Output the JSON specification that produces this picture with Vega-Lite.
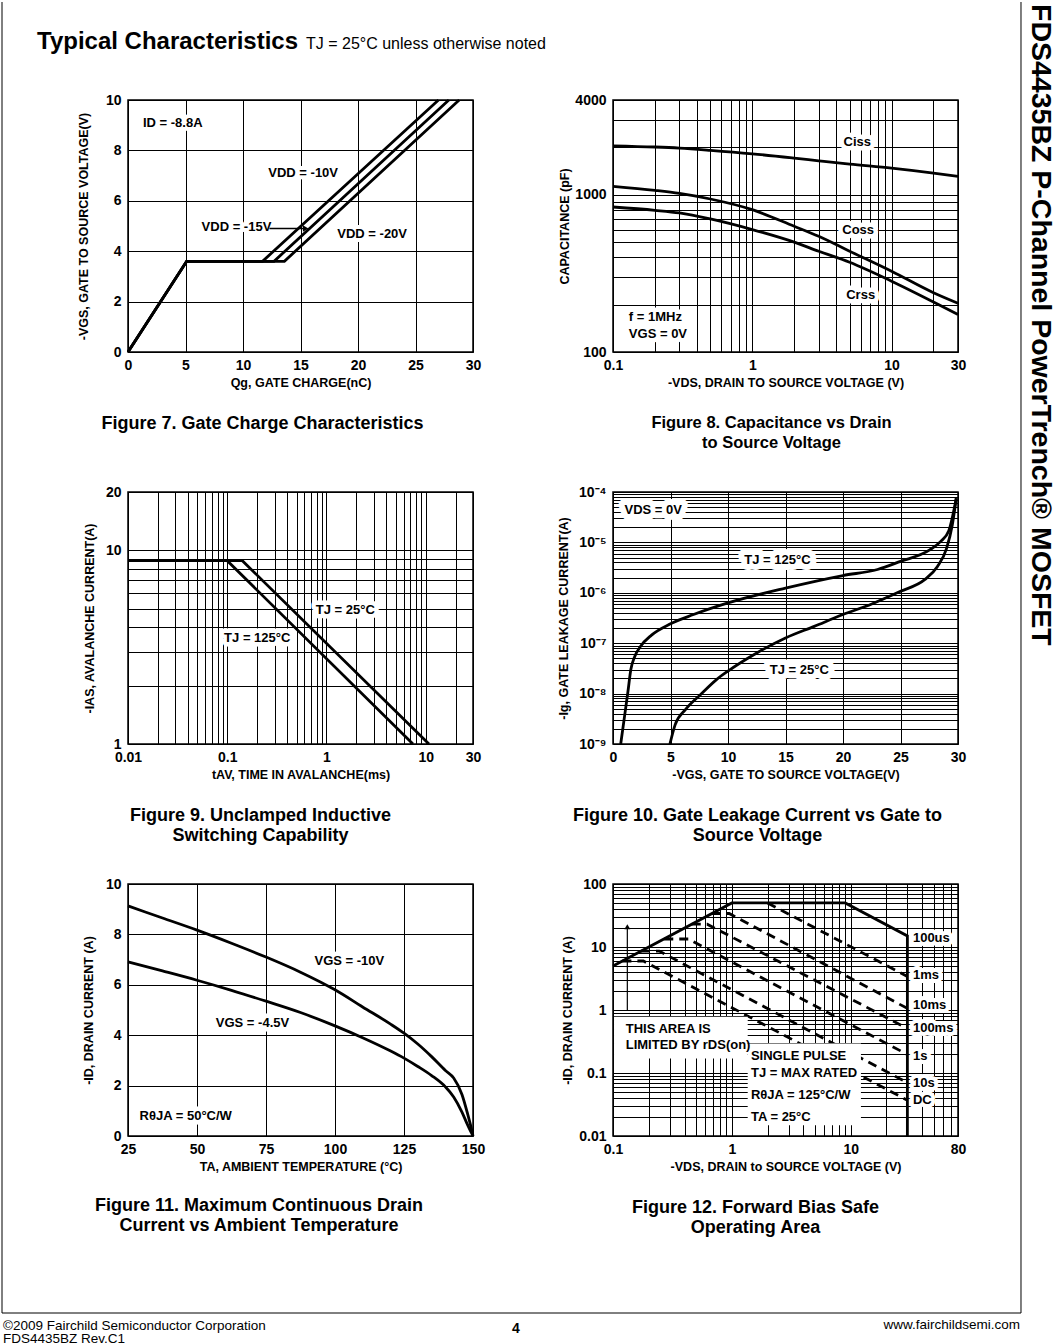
{
  "$schema": "https://vega.github.io/schema/vega-lite/v6.json",
  "background": "white",
  "padding": {"left": 0, "top": 0, "right": 7, "bottom": 0},
  "columns": 2,
  "spacing": {"row": 140, "column": 140},
  "bounds": "flush",
  "config": {
    "font": "Liberation Sans",
    "view": {"stroke": "#000000", "strokeWidth": 1.5, "continuousWidth": 345, "continuousHeight": 252},
    "axis": {
      "grid": true, "gridColor": "#000000", "gridWidth": 1, "gridOpacity": 1,
      "domain": false, "ticks": false, "tickSize": 0,
      "labelFont": "Liberation Sans", "labelFontSize": 14, "labelFontWeight": "bold", "labelColor": "#000000",
      "labelFlush": false, "labelOverlap": false, "labelBound": false,
      "titleFont": "Liberation Sans", "titleFontSize": 12.5, "titleFontWeight": "bold", "titleColor": "#000000"
    },
    "axisX": {"labelPadding": 6},
    "axisY": {"labelPadding": 7},
    "title": {"orient": "bottom", "anchor": "middle", "font": "Liberation Sans", "fontSize": 18, "fontWeight": "bold", "color": "#000000", "lineHeight": 20, "offset": 26},
    "line": {"color": "#000000", "strokeWidth": 2.8},
    "rule": {"color": "#000000"},
    "text": {"font": "Liberation Sans", "fontWeight": "bold", "fontSize": 13, "color": "#000000"}
  },
  "concat": [
    {
      "width": 345, "height": 252,
      "title": {"text": "Figure 7.  Gate Charge Characteristics", "dx": -38},
      "layer": [
        {
          "data": {"values": [
            {"VDD": "-10V", "Qg": 0, "VGS": 0}, {"VDD": "-10V", "Qg": 5.1, "VGS": 3.6}, {"VDD": "-10V", "Qg": 11.7, "VGS": 3.6}, {"VDD": "-10V", "Qg": 27.0, "VGS": 10},
            {"VDD": "-15V", "Qg": 0, "VGS": 0}, {"VDD": "-15V", "Qg": 5.1, "VGS": 3.6}, {"VDD": "-15V", "Qg": 12.7, "VGS": 3.6}, {"VDD": "-15V", "Qg": 27.9, "VGS": 10},
            {"VDD": "-20V", "Qg": 0, "VGS": 0}, {"VDD": "-20V", "Qg": 5.1, "VGS": 3.6}, {"VDD": "-20V", "Qg": 13.6, "VGS": 3.6}, {"VDD": "-20V", "Qg": 28.8, "VGS": 10}
          ]},
          "mark": {"type": "line"},
          "encoding": {
            "x": {"field": "Qg", "type": "quantitative", "scale": {"domain": [0, 30], "nice": false, "zero": false},
                  "axis": {"title": "Qg, GATE CHARGE(nC)", "values": [0, 5, 10, 15, 20, 25, 30], "titleY": 30, "titleBaseline": "middle"}},
            "y": {"field": "VGS", "type": "quantitative", "scale": {"domain": [0, 10], "nice": false},
                  "axis": {"title": "-VGS, GATE TO SOURCE VOLTAGE(V)", "values": [0, 2, 4, 6, 8, 10], "titleX": -45, "titleY": 126, "titleBaseline": "middle"}},
            "detail": {"field": "VDD", "type": "nominal"}
          }
        },
        {
          "data": {"values": [
            {"label": "ID = -8.8A", "Qg": 1.3, "VGS": 9.07},
            {"label": "VDD = -10V", "Qg": 12.2, "VGS": 7.09},
            {"label": "VDD = -15V", "Qg": 6.4, "VGS": 4.95},
            {"label": "VDD = -20V", "Qg": 18.2, "VGS": 4.68}
          ]},
          "encoding": {"x": {"field": "Qg", "type": "quantitative"}, "y": {"field": "VGS", "type": "quantitative"}, "text": {"field": "label", "type": "nominal"}},
          "layer": [
            {"mark": {"type": "text", "align": "left", "baseline": "middle", "stroke": "white", "strokeWidth": 8, "strokeJoin": "round", "fill": "white"}},
            {"mark": {"type": "text", "align": "left", "baseline": "middle"}}
          ]
        },
        {
          "data": {"values": [{}]},
          "mark": {"type": "rule", "strokeWidth": 1.5},
          "encoding": {"x": {"datum": 12.3}, "x2": {"datum": 15.3}, "y": {"datum": 4.9}}
        },
        {
          "data": {"values": [{}]},
          "mark": {"type": "point", "shape": "triangle-right", "filled": true, "color": "#000000", "size": 40, "opacity": 1},
          "encoding": {"x": {"datum": 15.45}, "y": {"datum": 4.9}}
        }
      ]
    },
    {
      "width": 345, "height": 252,
      "title": {"text": ["Figure 8. Capacitance vs Drain", "to Source Voltage"], "dx": -14, "fontSize": 16.5},
      "layer": [
        {
          "data": {"values": [
            {"cap": "Ciss", "VDS": 0.1, "C": 2046}, {"cap": "Ciss", "VDS": 0.2, "C": 2010}, {"cap": "Ciss", "VDS": 0.3, "C": 1977}, {"cap": "Ciss", "VDS": 0.5, "C": 1915}, {"cap": "Ciss", "VDS": 1, "C": 1820}, {"cap": "Ciss", "VDS": 2, "C": 1709}, {"cap": "Ciss", "VDS": 3, "C": 1643}, {"cap": "Ciss", "VDS": 5, "C": 1565}, {"cap": "Ciss", "VDS": 10, "C": 1476}, {"cap": "Ciss", "VDS": 20, "C": 1372}, {"cap": "Ciss", "VDS": 30, "C": 1307},
            {"cap": "Coss", "VDS": 0.1, "C": 1129}, {"cap": "Coss", "VDS": 0.2, "C": 1065}, {"cap": "Coss", "VDS": 0.3, "C": 1019}, {"cap": "Coss", "VDS": 0.5, "C": 939}, {"cap": "Coss", "VDS": 1, "C": 803}, {"cap": "Coss", "VDS": 2, "C": 630}, {"cap": "Coss", "VDS": 3, "C": 544}, {"cap": "Coss", "VDS": 5, "C": 437}, {"cap": "Coss", "VDS": 10, "C": 326}, {"cap": "Coss", "VDS": 20, "C": 238}, {"cap": "Coss", "VDS": 30, "C": 204},
            {"cap": "Crss", "VDS": 0.1, "C": 835}, {"cap": "Crss", "VDS": 0.2, "C": 796}, {"cap": "Crss", "VDS": 0.3, "C": 766}, {"cap": "Crss", "VDS": 0.5, "C": 701}, {"cap": "Crss", "VDS": 1, "C": 600}, {"cap": "Crss", "VDS": 2, "C": 499}, {"cap": "Crss", "VDS": 3, "C": 437}, {"cap": "Crss", "VDS": 5, "C": 372}, {"cap": "Crss", "VDS": 10, "C": 282}, {"cap": "Crss", "VDS": 20, "C": 208}, {"cap": "Crss", "VDS": 30, "C": 173}
          ]},
          "mark": {"type": "line", "interpolate": "monotone"},
          "encoding": {
            "x": {"field": "VDS", "type": "quantitative", "scale": {"type": "log", "domain": [0.1, 30], "nice": false},
                  "axis": {"title": "-VDS, DRAIN TO SOURCE VOLTAGE (V)", "values": [0.1, 0.2, 0.3, 0.4, 0.5, 0.6, 0.7, 0.8, 0.9, 1, 2, 3, 4, 5, 6, 7, 8, 9, 10, 20, 30],
                           "labelExpr": "datum.value == 0.1 ? '0.1' : datum.value == 1 ? '1' : datum.value == 10 ? '10' : datum.value == 30 ? '30' : ''", "titleY": 30, "titleBaseline": "middle"}},
            "y": {"field": "C", "type": "quantitative", "scale": {"type": "log", "domain": [100, 4000], "nice": false},
                  "axis": {"title": "CAPACITANCE (pF)", "values": [100, 200, 300, 400, 500, 600, 700, 800, 900, 1000, 2000, 3000, 4000],
                           "labelExpr": "datum.value == 100 ? '100' : datum.value == 1000 ? '1000' : datum.value == 4000 ? '4000' : ''", "titleX": -49, "titleY": 126, "titleBaseline": "middle"}},
            "detail": {"field": "cap", "type": "nominal"}
          }
        },
        {
          "data": {"values": [
            {"label": "Ciss", "VDS": 5.68, "C": 2178},
            {"label": "Coss", "VDS": 5.76, "C": 600},
            {"label": "Crss", "VDS": 6.0, "C": 232}
          ]},
          "encoding": {"x": {"field": "VDS", "type": "quantitative"}, "y": {"field": "C", "type": "quantitative"}, "text": {"field": "label", "type": "nominal"}},
          "layer": [
            {"mark": {"type": "text", "align": "center", "baseline": "middle", "stroke": "white", "strokeWidth": 9, "strokeJoin": "round", "fill": "white"}},
            {"mark": {"type": "text", "align": "center", "baseline": "middle"}}
          ]
        },
        {
          "data": {"values": [
            {"label": "f = 1MHz", "VDS": 0.13, "C": 167},
            {"label": "VGS = 0V", "VDS": 0.13, "C": 131}
          ]},
          "encoding": {"x": {"field": "VDS", "type": "quantitative"}, "y": {"field": "C", "type": "quantitative"}, "text": {"field": "label", "type": "nominal"}},
          "layer": [
            {"mark": {"type": "text", "align": "left", "baseline": "middle", "stroke": "white", "strokeWidth": 9, "strokeJoin": "round", "fill": "white"}},
            {"mark": {"type": "text", "align": "left", "baseline": "middle"}}
          ]
        }
      ]
    },
    {
      "width": 345, "height": 252,
      "title": {"text": ["Figure 9. Unclamped Inductive", "Switching Capability"], "dx": -40},
      "layer": [
        {
          "data": {"values": [
            {"TJ": "25C", "t": 0.01, "IAS": 8.84}, {"TJ": "25C", "t": 0.142, "IAS": 8.84}, {"TJ": "25C", "t": 10.8, "IAS": 1},
            {"TJ": "125C", "t": 0.01, "IAS": 8.84}, {"TJ": "125C", "t": 0.1, "IAS": 8.84}, {"TJ": "125C", "t": 7.45, "IAS": 1}
          ]},
          "mark": {"type": "line"},
          "encoding": {
            "x": {"field": "t", "type": "quantitative", "scale": {"type": "log", "domain": [0.01, 30], "nice": false},
                  "axis": {"title": "tAV, TIME IN AVALANCHE(ms)", "values": [0.01, 0.02, 0.03, 0.04, 0.05, 0.06, 0.07, 0.08, 0.09, 0.1, 0.2, 0.3, 0.4, 0.5, 0.6, 0.7, 0.8, 0.9, 1, 2, 3, 4, 5, 6, 7, 8, 9, 10, 20, 30],
                           "labelExpr": "datum.value == 0.01 ? '0.01' : datum.value == 0.1 ? '0.1' : datum.value == 1 ? '1' : datum.value == 10 ? '10' : datum.value == 30 ? '30' : ''", "titleY": 30, "titleBaseline": "middle"}},
            "y": {"field": "IAS", "type": "quantitative", "scale": {"type": "log", "domain": [1, 20], "nice": false},
                  "axis": {"title": "-IAS, AVALANCHE CURRENT(A)", "values": [1, 2, 3, 4, 5, 6, 7, 8, 9, 10, 20],
                           "labelExpr": "datum.value == 1 ? '1' : datum.value == 10 ? '10' : datum.value == 20 ? '20' : ''", "titleX": -39, "titleY": 126, "titleBaseline": "middle"}},
            "detail": {"field": "TJ", "type": "nominal"}
          }
        },
        {
          "data": {"values": [
            {"label": "TJ = 25°C", "t": 0.78, "IAS": 4.94},
            {"label": "TJ = 125°C", "t": 0.093, "IAS": 3.53}
          ]},
          "encoding": {"x": {"field": "t", "type": "quantitative"}, "y": {"field": "IAS", "type": "quantitative"}, "text": {"field": "label", "type": "nominal"}},
          "layer": [
            {"mark": {"type": "text", "align": "left", "baseline": "middle", "stroke": "white", "strokeWidth": 9, "strokeJoin": "round", "fill": "white"}},
            {"mark": {"type": "text", "align": "left", "baseline": "middle"}}
          ]
        }
      ]
    },
    {
      "width": 345, "height": 252,
      "title": {"text": ["Figure 10.  Gate Leakage Current vs Gate to", "Source Voltage"], "dx": -28},
      "layer": [
        {
          "data": {"values": [
            {"TJ": "125C", "VGS": 0.67, "Ig": 1e-9}, {"TJ": "125C", "VGS": 1.0, "Ig": 3.5e-9}, {"TJ": "125C", "VGS": 1.3, "Ig": 1.1e-8}, {"TJ": "125C", "VGS": 1.55, "Ig": 3.0e-8}, {"TJ": "125C", "VGS": 1.9, "Ig": 5.5e-8}, {"TJ": "125C", "VGS": 2.4, "Ig": 8.7e-8}, {"TJ": "125C", "VGS": 3.35, "Ig": 1.45e-7}, {"TJ": "125C", "VGS": 4.95, "Ig": 2.4e-7}, {"TJ": "125C", "VGS": 7.0, "Ig": 3.7e-7}, {"TJ": "125C", "VGS": 10.0, "Ig": 6.3e-7}, {"TJ": "125C", "VGS": 15.0, "Ig": 1.24e-6}, {"TJ": "125C", "VGS": 20.0, "Ig": 2.2e-6}, {"TJ": "125C", "VGS": 23.0, "Ig": 2.9e-6}, {"TJ": "125C", "VGS": 25.0, "Ig": 4.2e-6}, {"TJ": "125C", "VGS": 27.5, "Ig": 7.0e-6}, {"TJ": "125C", "VGS": 28.5, "Ig": 1.05e-5}, {"TJ": "125C", "VGS": 29.2, "Ig": 1.7e-5}, {"TJ": "125C", "VGS": 29.85, "Ig": 7.5e-5},
            {"TJ": "25C", "VGS": 4.95, "Ig": 1e-9}, {"TJ": "25C", "VGS": 5.4, "Ig": 2.4e-9}, {"TJ": "25C", "VGS": 6.3, "Ig": 4.8e-9}, {"TJ": "25C", "VGS": 7.6, "Ig": 9.5e-9}, {"TJ": "25C", "VGS": 9.0, "Ig": 1.9e-8}, {"TJ": "25C", "VGS": 10.0, "Ig": 2.8e-8}, {"TJ": "25C", "VGS": 12.5, "Ig": 6.4e-8}, {"TJ": "25C", "VGS": 15.0, "Ig": 1.27e-7}, {"TJ": "25C", "VGS": 17.5, "Ig": 2.16e-7}, {"TJ": "25C", "VGS": 20.0, "Ig": 3.7e-7}, {"TJ": "25C", "VGS": 22.5, "Ig": 6.0e-7}, {"TJ": "25C", "VGS": 25.0, "Ig": 1.07e-6}, {"TJ": "25C", "VGS": 27.1, "Ig": 1.82e-6}, {"TJ": "25C", "VGS": 28.2, "Ig": 3.3e-6}, {"TJ": "25C", "VGS": 29.0, "Ig": 7.5e-6}, {"TJ": "25C", "VGS": 29.5, "Ig": 2.2e-5}, {"TJ": "25C", "VGS": 29.85, "Ig": 7.5e-5}
          ]},
          "mark": {"type": "line", "interpolate": "monotone"},
          "encoding": {
            "x": {"field": "VGS", "type": "quantitative", "scale": {"domain": [0, 30], "nice": false},
                  "axis": {"title": "-VGS, GATE TO SOURCE VOLTAGE(V)", "values": [0, 5, 10, 15, 20, 25, 30], "titleY": 30, "titleBaseline": "middle"}},
            "y": {"field": "Ig", "type": "quantitative", "scale": {"type": "log", "domain": [1e-9, 1e-4], "nice": false},
                  "axis": {"title": "-Ig, GATE LEAKAGE CURRENT(A)",
                           "values": [1e-9, 2e-9, 3e-9, 4e-9, 5e-9, 6e-9, 7e-9, 8e-9, 9e-9, 1e-8, 2e-8, 3e-8, 4e-8, 5e-8, 6e-8, 7e-8, 8e-8, 9e-8, 1e-7, 2e-7, 3e-7, 4e-7, 5e-7, 6e-7, 7e-7, 8e-7, 9e-7, 1e-6, 2e-6, 3e-6, 4e-6, 5e-6, 6e-6, 7e-6, 8e-6, 9e-6, 1e-5, 2e-5, 3e-5, 4e-5, 5e-5, 6e-5, 7e-5, 8e-5, 9e-5, 1e-4],
                           "labelExpr": "datum.value == 1e-9 ? '10⁻⁹' : datum.value == 1e-8 ? '10⁻⁸' : datum.value == 1e-7 ? '10⁻⁷' : datum.value == 1e-6 ? '10⁻⁶' : datum.value == 1e-5 ? '10⁻⁵' : datum.value == 1e-4 ? '10⁻⁴' : ''",
                           "titleX": -50, "titleY": 126, "titleBaseline": "middle"}},
            "detail": {"field": "TJ", "type": "nominal"}
          }
        },
        {
          "data": {"values": [
            {"label": "VDS = 0V", "VGS": 1.0, "Ig": 4.47e-5}
          ]},
          "encoding": {"x": {"field": "VGS", "type": "quantitative"}, "y": {"field": "Ig", "type": "quantitative"}, "text": {"field": "label", "type": "nominal"}},
          "layer": [
            {"mark": {"type": "text", "align": "left", "baseline": "middle", "stroke": "white", "strokeWidth": 12, "strokeJoin": "round", "fill": "white"}},
            {"mark": {"type": "text", "align": "left", "baseline": "middle"}}
          ]
        },
        {
          "data": {"values": [
            {"label": "TJ = 125°C", "VGS": 14.3, "Ig": 4.5e-6},
            {"label": "TJ = 25°C", "VGS": 16.2, "Ig": 2.98e-8}
          ]},
          "encoding": {"x": {"field": "VGS", "type": "quantitative"}, "y": {"field": "Ig", "type": "quantitative"}, "text": {"field": "label", "type": "nominal"}},
          "layer": [
            {"mark": {"type": "text", "align": "center", "baseline": "middle", "stroke": "white", "strokeWidth": 12, "strokeJoin": "round", "fill": "white"}},
            {"mark": {"type": "text", "align": "center", "baseline": "middle"}}
          ]
        }
      ]
    },
    {
      "width": 345, "height": 252,
      "layer": [
        {
          "data": {"values": [
            {"VGS": "-10V", "TA": 25, "ID": 9.13}, {"VGS": "-10V", "TA": 37.5, "ID": 8.65}, {"VGS": "-10V", "TA": 50, "ID": 8.17}, {"VGS": "-10V", "TA": 62.5, "ID": 7.65}, {"VGS": "-10V", "TA": 75, "ID": 7.1}, {"VGS": "-10V", "TA": 87.5, "ID": 6.5}, {"VGS": "-10V", "TA": 100, "ID": 5.8}, {"VGS": "-10V", "TA": 110, "ID": 5.12}, {"VGS": "-10V", "TA": 120, "ID": 4.45}, {"VGS": "-10V", "TA": 125, "ID": 4.08}, {"VGS": "-10V", "TA": 130, "ID": 3.65}, {"VGS": "-10V", "TA": 135, "ID": 3.15}, {"VGS": "-10V", "TA": 140, "ID": 2.6}, {"VGS": "-10V", "TA": 143, "ID": 2.3}, {"VGS": "-10V", "TA": 146, "ID": 1.65}, {"VGS": "-10V", "TA": 148, "ID": 0.9}, {"VGS": "-10V", "TA": 149.3, "ID": 0.35}, {"VGS": "-10V", "TA": 150, "ID": 0},
            {"VGS": "-4.5V", "TA": 25, "ID": 6.91}, {"VGS": "-4.5V", "TA": 37.5, "ID": 6.55}, {"VGS": "-4.5V", "TA": 50, "ID": 6.18}, {"VGS": "-4.5V", "TA": 62.5, "ID": 5.78}, {"VGS": "-4.5V", "TA": 75, "ID": 5.35}, {"VGS": "-4.5V", "TA": 87.5, "ID": 4.9}, {"VGS": "-4.5V", "TA": 100, "ID": 4.37}, {"VGS": "-4.5V", "TA": 110, "ID": 3.9}, {"VGS": "-4.5V", "TA": 120, "ID": 3.38}, {"VGS": "-4.5V", "TA": 125, "ID": 3.09}, {"VGS": "-4.5V", "TA": 130, "ID": 2.76}, {"VGS": "-4.5V", "TA": 135, "ID": 2.4}, {"VGS": "-4.5V", "TA": 140, "ID": 1.95}, {"VGS": "-4.5V", "TA": 143, "ID": 1.55}, {"VGS": "-4.5V", "TA": 146, "ID": 0.95}, {"VGS": "-4.5V", "TA": 148, "ID": 0.45}, {"VGS": "-4.5V", "TA": 149.3, "ID": 0.15}, {"VGS": "-4.5V", "TA": 150, "ID": 0}
          ]},
          "mark": {"type": "line", "interpolate": "monotone"},
          "encoding": {
            "x": {"field": "TA", "type": "quantitative", "scale": {"domain": [25, 150], "nice": false, "zero": false},
                  "axis": {"title": "TA, AMBIENT TEMPERATURE (°C)", "values": [25, 50, 75, 100, 125, 150], "titleY": 30, "titleBaseline": "middle"}},
            "y": {"field": "ID", "type": "quantitative", "scale": {"domain": [0, 10], "nice": false},
                  "axis": {"title": "-ID, DRAIN CURRENT (A)", "values": [0, 2, 4, 6, 8, 10], "titleX": -40, "titleY": 126, "titleBaseline": "middle"}},
            "detail": {"field": "VGS", "type": "nominal"}
          }
        },
        {
          "data": {"values": [
            {"label": "VGS = -10V", "TA": 105.2, "ID": 6.94},
            {"label": "VGS = -4.5V", "TA": 70.1, "ID": 4.49}
          ]},
          "encoding": {"x": {"field": "TA", "type": "quantitative"}, "y": {"field": "ID", "type": "quantitative"}, "text": {"field": "label", "type": "nominal"}},
          "layer": [
            {"mark": {"type": "text", "align": "center", "baseline": "middle", "stroke": "white", "strokeWidth": 9, "strokeJoin": "round", "fill": "white"}},
            {"mark": {"type": "text", "align": "center", "baseline": "middle"}}
          ]
        },
        {
          "data": {"values": [
            {"label": "RθJA = 50°C/W", "TA": 29.2, "ID": 0.79}
          ]},
          "encoding": {"x": {"field": "TA", "type": "quantitative"}, "y": {"field": "ID", "type": "quantitative"}, "text": {"field": "label", "type": "nominal"}},
          "layer": [
            {"mark": {"type": "text", "align": "left", "baseline": "middle", "stroke": "white", "strokeWidth": 9, "strokeJoin": "round", "fill": "white"}},
            {"mark": {"type": "text", "align": "left", "baseline": "middle"}}
          ]
        },
        {
          "data": {"values": [{}]},
          "mark": {"type": "text", "text": "Figure 11. Maximum Continuous Drain", "align": "center", "baseline": "middle", "fontSize": 18},
          "encoding": {"x": {"datum": 72.46}, "y": {"datum": -2.778}}
        },
        {
          "data": {"values": [{}]},
          "mark": {"type": "text", "text": "Current  vs Ambient Temperature", "align": "center", "baseline": "middle", "fontSize": 18},
          "encoding": {"x": {"datum": 72.46}, "y": {"datum": -3.571}}
        },
        {
          "data": {"values": [{}]},
          "mark": {"type": "rule", "strokeWidth": 1},
          "encoding": {"x": {"datum": -20.652}, "y": {"datum": 45.0}, "y2": {"datum": -7.024}}
        },
        {
          "data": {"values": [{}]},
          "mark": {"type": "rule", "strokeWidth": 1},
          "encoding": {"x": {"datum": 348.55}, "y": {"datum": 45.0}, "y2": {"datum": -7.024}}
        },
        {
          "data": {"values": [{}]},
          "mark": {"type": "rule", "strokeWidth": 1},
          "encoding": {"x": {"datum": -20.652}, "x2": {"datum": 348.55}, "y": {"datum": -7.024}}
        },
        {
          "data": {"values": [{}]},
          "mark": {"type": "text", "text": "Typical Characteristics", "align": "left", "baseline": "alphabetic", "fontSize": 24},
          "encoding": {"x": {"datum": -7.971}, "y": {"datum": 43.135}}
        },
        {
          "data": {"values": [{}]},
          "mark": {"type": "text", "text": "TJ = 25°C unless otherwise noted", "align": "left", "baseline": "alphabetic", "fontSize": 16, "fontWeight": "normal"},
          "encoding": {"x": {"datum": 89.5}, "y": {"datum": 43.135}}
        },
        {
          "data": {"values": [{}]},
          "mark": {"type": "text", "text": "FDS4435BZ P-Channel PowerTrench® MOSFET", "align": "left", "baseline": "middle", "angle": 90, "fontSize": 28.5},
          "encoding": {"x": {"datum": 355.8}, "y": {"datum": 44.921}}
        },
        {
          "data": {"values": [{}]},
          "mark": {"type": "text", "text": "©2009 Fairchild Semiconductor Corporation", "align": "left", "baseline": "middle", "fontSize": 13.5, "fontWeight": "normal"},
          "encoding": {"x": {"datum": -20.29}, "y": {"datum": -7.54}}
        },
        {
          "data": {"values": [{}]},
          "mark": {"type": "text", "text": "FDS4435BZ Rev.C1", "align": "left", "baseline": "middle", "fontSize": 13.5, "fontWeight": "normal"},
          "encoding": {"x": {"datum": -20.29}, "y": {"datum": -8.056}}
        },
        {
          "data": {"values": [{}]},
          "mark": {"type": "text", "text": "4", "align": "center", "baseline": "middle", "fontSize": 14},
          "encoding": {"x": {"datum": 165.58}, "y": {"datum": -7.659}}
        },
        {
          "data": {"values": [{}]},
          "mark": {"type": "text", "text": "www.fairchildsemi.com", "align": "right", "baseline": "middle", "fontSize": 13.5, "fontWeight": "normal"},
          "encoding": {"x": {"datum": 348.19}, "y": {"datum": -7.5}}
        }
      ]
    },
    {
      "width": 345, "height": 252,
      "title": {"text": ["Figure 12.  Forward Bias Safe", "Operating Area"], "dx": -30},
      "layer": [
        {
          "data": {"values": [
            {"t": "1ms", "k": 0, "VDS": 2, "ID": 50}, {"t": "1ms", "k": 1, "VDS": 30, "ID": 3.4},
            {"t": "10ms", "k": 0, "VDS": 0.68, "ID": 34}, {"t": "10ms", "k": 1, "VDS": 0.95, "ID": 34}, {"t": "10ms", "k": 2, "VDS": 30, "ID": 1.06},
            {"t": "100ms", "k": 0, "VDS": 0.46, "ID": 23}, {"t": "100ms", "k": 1, "VDS": 0.62, "ID": 23}, {"t": "100ms", "k": 2, "VDS": 30, "ID": 0.51},
            {"t": "1s", "k": 0, "VDS": 0.27, "ID": 13.4}, {"t": "1s", "k": 1, "VDS": 0.43, "ID": 13.4}, {"t": "1s", "k": 2, "VDS": 30, "ID": 0.197},
            {"t": "10s", "k": 0, "VDS": 0.172, "ID": 8.6}, {"t": "10s", "k": 1, "VDS": 0.245, "ID": 8.6}, {"t": "10s", "k": 2, "VDS": 30, "ID": 0.07},
            {"t": "DC", "k": 0, "VDS": 0.12, "ID": 6.0}, {"t": "DC", "k": 1, "VDS": 0.18, "ID": 6.0}, {"t": "DC", "k": 2, "VDS": 30, "ID": 0.037}
          ]},
          "mark": {"type": "line", "strokeDash": [9, 6]},
          "encoding": {
            "x": {"field": "VDS", "type": "quantitative", "scale": {"type": "log", "domain": [0.1, 80], "nice": false},
                  "axis": {"title": "-VDS, DRAIN to SOURCE VOLTAGE (V)", "values": [0.1, 0.2, 0.3, 0.4, 0.5, 0.6, 0.7, 0.8, 0.9, 1, 2, 3, 4, 5, 6, 7, 8, 9, 10, 20, 30, 40, 50, 60, 70, 80],
                           "labelExpr": "datum.value == 0.1 ? '0.1' : datum.value == 1 ? '1' : datum.value == 10 ? '10' : datum.value == 80 ? '80' : ''", "titleY": 30, "titleBaseline": "middle"}},
            "y": {"field": "ID", "type": "quantitative", "scale": {"type": "log", "domain": [0.01, 100], "nice": false},
                  "axis": {"title": "-ID, DRAIN CURRENT (A)", "values": [0.01, 0.02, 0.03, 0.04, 0.05, 0.06, 0.07, 0.08, 0.09, 0.1, 0.2, 0.3, 0.4, 0.5, 0.6, 0.7, 0.8, 0.9, 1, 2, 3, 4, 5, 6, 7, 8, 9, 10, 20, 30, 40, 50, 60, 70, 80, 90, 100],
                           "labelExpr": "datum.value == 0.01 ? '0.01' : datum.value == 0.1 ? '0.1' : datum.value == 1 ? '1' : datum.value == 10 ? '10' : datum.value == 100 ? '100' : ''", "titleX": -46, "titleY": 126, "titleBaseline": "middle"}},
            "detail": {"field": "t", "type": "nominal"},
            "order": {"field": "k", "type": "quantitative"}
          }
        },
        {
          "data": {"values": [{}]},
          "mark": {"type": "rect", "color": "white", "opacity": 1},
          "encoding": {"x": {"datum": 0.102}, "x2": {"datum": 1.36}, "y": {"datum": 0.78}, "y2": {"datum": 0.17}}
        },
        {
          "data": {"values": [{}]},
          "mark": {"type": "rect", "color": "white", "opacity": 1},
          "encoding": {"x": {"datum": 1.36}, "x2": {"datum": 12.2}, "y": {"datum": 0.293}, "y2": {"datum": 0.0148}}
        },
        {
          "data": {"values": [
            {"label": "THIS AREA IS", "VDS": 0.128, "ID": 0.508},
            {"label": "LIMITED BY rDS(on)", "VDS": 0.128, "ID": 0.276},
            {"label": "SINGLE PULSE", "VDS": 1.448, "ID": 0.1845},
            {"label": "TJ = MAX RATED", "VDS": 1.448, "ID": 0.1015},
            {"label": "RθJA = 125°C/W", "VDS": 1.448, "ID": 0.0443},
            {"label": "TA = 25°C", "VDS": 1.448, "ID": 0.02}
          ]},
          "mark": {"type": "text", "align": "left", "baseline": "middle"},
          "encoding": {"x": {"field": "VDS", "type": "quantitative"}, "y": {"field": "ID", "type": "quantitative"}, "text": {"field": "label", "type": "nominal"}}
        },
        {
          "data": {"values": [
            {"label": "100us", "VDS": 33.4, "ID": 14.0},
            {"label": "1ms", "VDS": 33.4, "ID": 3.58},
            {"label": "10ms", "VDS": 33.4, "ID": 1.19},
            {"label": "100ms", "VDS": 33.4, "ID": 0.527},
            {"label": "1s", "VDS": 33.4, "ID": 0.185},
            {"label": "10s", "VDS": 33.4, "ID": 0.0696},
            {"label": "DC", "VDS": 33.4, "ID": 0.0369}
          ]},
          "encoding": {"x": {"field": "VDS", "type": "quantitative"}, "y": {"field": "ID", "type": "quantitative"}, "text": {"field": "label", "type": "nominal"}},
          "layer": [
            {"mark": {"type": "text", "align": "left", "baseline": "middle", "stroke": "white", "strokeWidth": 8, "strokeJoin": "round", "fill": "white"}},
            {"mark": {"type": "text", "align": "left", "baseline": "middle"}}
          ]
        },
        {
          "data": {"values": [
            {"k": 0, "VDS": 0.1, "ID": 5}, {"k": 1, "VDS": 1, "ID": 50}, {"k": 2, "VDS": 9, "ID": 50}, {"k": 3, "VDS": 30, "ID": 15}, {"k": 4, "VDS": 30, "ID": 0.01}
          ]},
          "mark": {"type": "line"},
          "encoding": {
            "x": {"field": "VDS", "type": "quantitative"},
            "y": {"field": "ID", "type": "quantitative"},
            "order": {"field": "k", "type": "quantitative"}
          }
        },
        {
          "data": {"values": [{}]},
          "mark": {"type": "rule", "strokeWidth": 1.2},
          "encoding": {"x": {"datum": 0.132}, "y": {"datum": 1.0}, "y2": {"datum": 20}}
        },
        {
          "data": {"values": [{}]},
          "mark": {"type": "point", "shape": "triangle-up", "filled": true, "color": "#000000", "size": 35, "opacity": 1},
          "encoding": {"x": {"datum": 0.132}, "y": {"datum": 21}}
        }
      ]
    }
  ]
}
